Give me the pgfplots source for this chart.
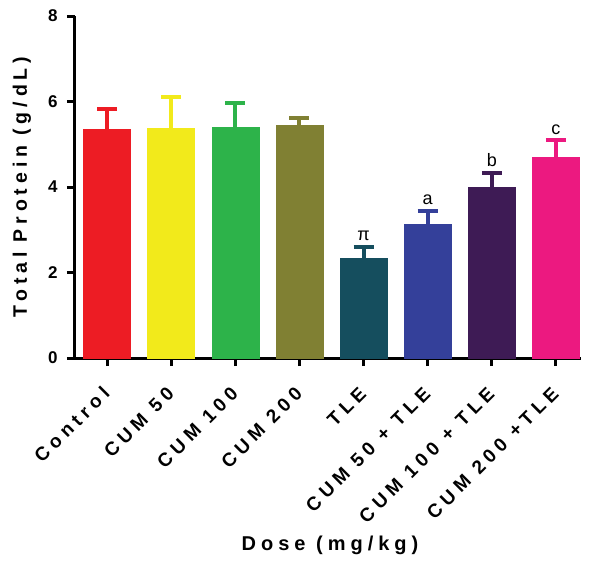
\documentclass[border=0pt]{standalone}
\usepackage{pgfplots}
\pgfplotsset{compat=1.18}
\usepackage{fontspec}
\setmainfont{Liberation Sans}
\newfontfamily\ticksfont[LetterSpace=26]{Liberation Sans}
\newfontfamily\labfont[LetterSpace=25]{Liberation Sans}
\definecolor{c0}{HTML}{ED1C24}
\definecolor{c1}{HTML}{F2EA1B}
\definecolor{c2}{HTML}{2DB34A}
\definecolor{c3}{HTML}{808033}
\definecolor{c4}{HTML}{154E5E}
\definecolor{c5}{HTML}{34409A}
\definecolor{c6}{HTML}{3E1B55}
\definecolor{c7}{HTML}{EC1980}
\pgfplotsset{
  mybar/.style={fill=#1, draw=#1, line width=0.5pt,
    error bars/.cd, y dir=plus, y explicit,
    error bar style={line width=4pt, draw=#1, solid},
    error mark options={rotate=90, mark size=10pt, line width=4pt, draw=#1, solid}}
}
\begin{document}
\begin{tikzpicture}
\begin{axis}[
  scale only axis, width=506pt, height=342pt,
  xmin=-0.5, xmax=7.39, ymin=0, ymax=8,
  axis x line*=bottom, axis y line*=left,
  axis line style={line width=3pt, black},
  major tick style={line width=3pt, black},
  major tick length=8pt,
  tick align=outside,
  xtick={0,1,2,3,4,5,6,7},
  xticklabels={Control, CUM 50, CUM 100, CUM 200, TLE, CUM 50 + TLE, CUM 100 + TLE, CUM 200 +TLE},
  x tick label style={xshift=4pt, yshift=-29pt, rotate=45, anchor=base east, inner sep=0pt, font=\ticksfont\bfseries\fontsize{19}{22}\selectfont},
  ytick={0,2,4,6,8},
  y tick label style={xshift=-6pt, font=\bfseries\fontsize{17}{19}\selectfont},
  /pgf/number format/assume math mode=true,
  ylabel={Total Protein (g/dL)},
  ylabel style={at={(axis description cs:-0.105,0.5)}, anchor=center, font=\labfont\bfseries\fontsize{19.5}{22}\selectfont},
  xlabel={Dose (mg/kg)},
  xlabel style={at={(axis description cs:0.504,-0.547)}, anchor=center, font=\labfont\bfseries\fontsize{20}{22}\selectfont},
  ybar, bar width=47pt, bar shift=0pt,
  clip=false
]
\addplot[mybar=c0] coordinates {(0,5.36) +- (0,0.47)};
\addplot[mybar=c1] coordinates {(1,5.38) +- (0,0.73)};
\addplot[mybar=c2] coordinates {(2,5.40) +- (0,0.57)};
\addplot[mybar=c3] coordinates {(3,5.44) +- (0,0.18)};
\addplot[mybar=c4] coordinates {(4,2.34) +- (0,0.26)};
\addplot[mybar=c5] coordinates {(5,3.13) +- (0,0.32)};
\addplot[mybar=c6] coordinates {(6,3.99) +- (0,0.34)};
\addplot[mybar=c7] coordinates {(7,4.69) +- (0,0.40)};
\node[anchor=south, inner sep=0pt, yshift=6pt, font=\fontsize{18}{20}\selectfont] at (axis cs:4,2.60) {π};
\node[anchor=south, inner sep=0pt, yshift=6pt, font=\fontsize{18}{20}\selectfont] at (axis cs:5,3.45) {a};
\node[anchor=south, inner sep=0pt, yshift=6pt, font=\fontsize{18}{20}\selectfont] at (axis cs:6,4.33) {b};
\node[anchor=south, inner sep=0pt, yshift=6pt, font=\fontsize{18}{20}\selectfont] at (axis cs:7,5.09) {c};
\end{axis}
\path[use as bounding box] (-75pt,-212pt) rectangle (514pt,358pt);
\end{tikzpicture}
\end{document}
